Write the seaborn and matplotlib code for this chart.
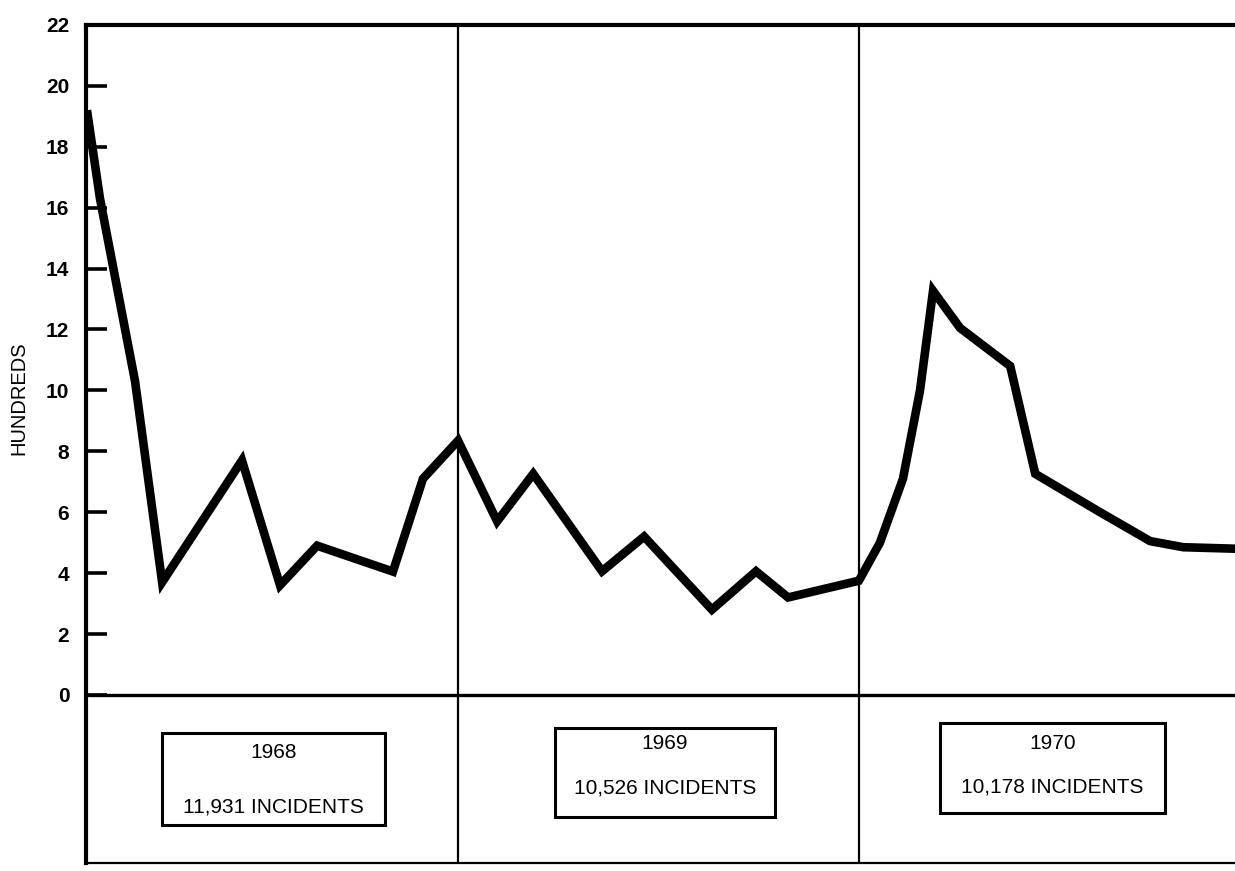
import matplotlib
matplotlib.use("Agg")
import matplotlib.pyplot as plt
import seaborn as sns
import pandas as pd
from matplotlib.patches import Rectangle

# ---- data ----
# x = position in months from the start of 1968 (12 = start of 1969, 24 = start of 1970)
month_pos = [0.89, 1.28, 2.33, 3.14, 5.53, 6.67, 7.78, 10.05, 10.95, 12.0,
             13.17, 14.25, 16.31, 17.57, 19.6, 20.92, 21.88, 24.0,
             24.63, 25.32, 25.83, 26.22, 27.03, 28.53, 29.28, 31.22, 32.72, 33.71, 35.3]
hundreds = [19.2, 16.3, 10.3, 3.7, 7.7, 3.6, 4.9, 4.05, 7.1, 8.35,
            5.7, 7.26, 4.06, 5.2, 2.8, 4.06, 3.2, 3.75,
            5.0, 7.1, 10.0, 13.27, 12.05, 10.8, 7.26, 6.0, 5.05, 4.85, 4.8]
years = ["1968", "1969", "1970"]
incidents = ["11,931 INCIDENTS", "10,526 INCIDENTS", "10,178 INCIDENTS"]
year_starts = [12, 24]
y_ticks = list(range(0, 23, 2))

df = pd.DataFrame({"month": month_pos, "hundreds": hundreds})

# ---- style ----
sns.set_style("white")
plt.rcParams["font.family"] = ["Liberation Sans", "DejaVu Sans"]
plt.rcParams["text.color"] = "black"
plt.rcParams["ytick.color"] = "black"
plt.rcParams["ytick.labelcolor"] = "black"
plt.rcParams["axes.labelcolor"] = "black"

fig = plt.figure(figsize=(12.35, 8.71), dpi=100)
ax = fig.add_axes([0.0696, 0.0092, 0.9304, 0.9621])

sns.lineplot(data=df, x="month", y="hundreds", ax=ax, color="black",
             linewidth=6.2, sort=False, estimator=None)
for l in ax.lines:
    l.set_solid_joinstyle("miter")
    l.set_solid_capstyle("butt")

ax.set_xlim(0.86, 35.26)
ax.set_ylim(-5.52, 22)

# baseline and year dividers
ax.axhline(0, color="black", linewidth=2.4, zorder=1)
for xs in year_starts:
    ax.axvline(xs, color="black", linewidth=1.6, zorder=1)

# spines
for side in ["left", "top", "bottom"]:
    ax.spines[side].set_visible(True)
    ax.spines[side].set_color("black")
ax.spines["left"].set_linewidth(3)
ax.spines["top"].set_linewidth(3)
ax.spines["bottom"].set_linewidth(1.6)
ax.spines["right"].set_visible(False)

ax.set_xticks([])
ax.set_yticks(y_ticks)
ax.set_yticklabels([str(v) for v in y_ticks], fontsize=15, fontweight="bold")
ax.tick_params(axis="y", direction="in", length=15, width=2.6, pad=12, left=True,
               colors="black")
ax.set_xlabel("")
ax.set_ylabel("HUNDREDS", fontsize=14.5, color="black")
ax.yaxis.set_label_coords(-0.05, 0.555)

# year boxes (layout positions)
box_x = [(3.14, 9.81), (14.9, 21.49), (26.43, 33.17)]
box_y = [(-4.27, -1.25), (-4.0, -1.08), (-3.88, -0.92)]
text_y = [(-1.9, -3.68), (-1.58, -3.05), (-1.58, -3.02)]
for yr, inc, bx, by, ty in zip(years, incidents, box_x, box_y, text_y):
    ax.add_patch(Rectangle((bx[0], by[0]), bx[1] - bx[0], by[1] - by[0],
                           fill=False, edgecolor="black", linewidth=2.2,
                           clip_on=False))
    cx = (bx[0] + bx[1]) / 2
    ax.text(cx, ty[0], yr, ha="center", va="center", fontsize=15, color="black")
    ax.text(cx, ty[1], inc, ha="center", va="center", fontsize=15, color="black")

fig.savefig("out.png", dpi=100, facecolor="white")
